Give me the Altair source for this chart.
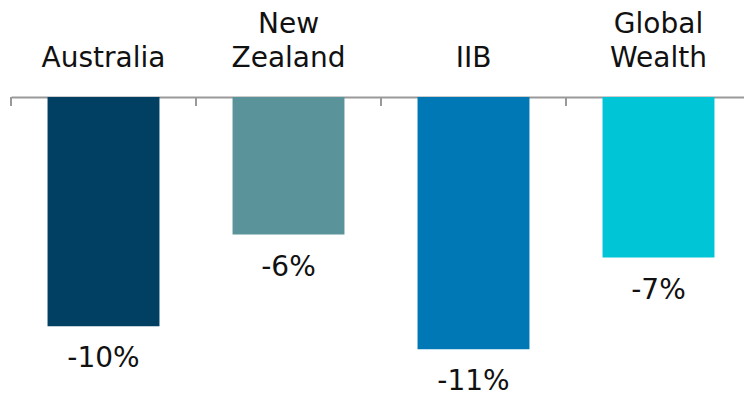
import altair as alt
import pandas as pd

# Change by division, in percent
divisions = ["Australia", "New Zealand", "IIB", "Global Wealth"]
change_pct = [-10, -6, -11, -7]
bar_colors = ["#024063", "#5A9399", "#0078B5", "#00C5D6"]

df = pd.DataFrame({"division": divisions, "change": change_pct})

FONT = "DejaVu Sans"
AXIS_GREY = "#999999"
TEXT_COLOR = "#111111"

# Two-word names wrap onto two lines; single words sit on the lower line
label_expr = (
    "length(split(datum.label, ' ')) > 1 ? split(datum.label, ' ') : ['', datum.label]"
)

x_enc = alt.X(
    "division:N",
    sort=divisions,
    scale=alt.Scale(range=[0, 740], paddingInner=0, paddingOuter=0),
    axis=alt.Axis(
        orient="top",
        title=None,
        ticks=False,
        domainColor=AXIS_GREY,
        domainWidth=2,
        labelAngle=0,
        labelFont=FONT,
        labelFontSize=28,
        labelColor=TEXT_COLOR,
        labelLineHeight=34,
        labelPadding=59,
        labelExpr=label_expr,
    ),
)

y_scale = alt.Scale(domain=[-12.95, 0], nice=False)

bars = alt.Chart(df).mark_bar(width={"band": 0.605}).encode(
    x=x_enc,
    y=alt.Y("change:Q", scale=y_scale, axis=None),
    color=alt.Color("division:N", scale=alt.Scale(domain=divisions, range=bar_colors), legend=None),
)

labels = alt.Chart(df).transform_calculate(
    lbl="datum.change + '%'"
).mark_text(
    baseline="top", align="center", dy=19, font=FONT, fontSize=28, color=TEXT_COLOR
).encode(
    x=alt.X("division:N", sort=divisions),
    y=alt.Y("change:Q", scale=y_scale, axis=None),
    text="lbl:N",
)

# Short separators hanging below the baseline at each category boundary
ticks = alt.Chart(df).mark_rule(color=AXIS_GREY, strokeWidth=2).encode(
    x=alt.X("division:N", sort=divisions, bandPosition=0),
    y=alt.value(0),
    y2=alt.value(9),
)

chart = alt.layer(bars, labels, ticks).properties(
    width=733,
    height=297,
    background="white",
    padding={"left": 11, "top": 97, "right": 0, "bottom": 0},
    autosize=alt.AutoSizeParams(type="none"),
).configure_view(stroke=None)

chart.save("out.html", embed_options={"renderer": "svg", "actions": False})
